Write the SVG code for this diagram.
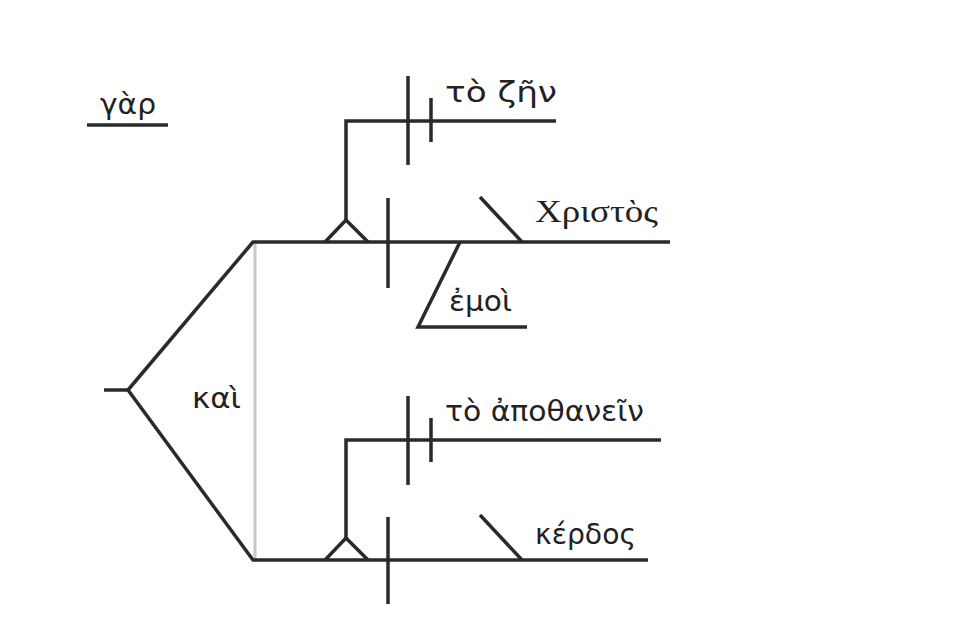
<svg xmlns="http://www.w3.org/2000/svg" width="960" height="640" viewBox="0 0 960 640">
<style>
.l{stroke:#2a2a2a;stroke-width:3.5;fill:none;stroke-linecap:butt}
.g{stroke:#c8c8c8;stroke-width:3;fill:none}
.t{font-family:"DejaVu Sans","Noto Sans",sans-serif;font-size:29px;fill:#222}
.s{font-family:"Liberation Serif","DejaVu Serif",serif;font-size:31px;fill:#222}
</style>
<rect width="960" height="640" fill="#fff"/>
<g id="connectors">
<line class="l" x1="87" y1="125" x2="168" y2="125"/>
<line class="l" x1="104" y1="390" x2="128" y2="390"/>
<line class="l" x1="128" y1="390" x2="253" y2="242"/>
<line class="l" x1="128" y1="390" x2="253" y2="560"/>
<line class="g" x1="255" y1="243" x2="255" y2="559"/>
</g>
<g id="gar"><text class="t" x="100" y="114" textLength="56" lengthAdjust="spacingAndGlyphs">γὰρ</text></g>
<g id="kai"><text class="t" x="192" y="408" textLength="49" lengthAdjust="spacingAndGlyphs">καὶ</text></g>
<g id="clause1">
<line class="l" x1="252" y1="242" x2="670" y2="242"/>
<polyline class="l" points="325,242 346,220 368,242"/>
<line class="l" x1="388" y1="198" x2="388" y2="288"/>
<line class="l" x1="480" y1="197" x2="522" y2="242"/>
<polyline class="l" points="460,242 418,327 527,327"/>
</g>
<g id="to-zen">
<polyline class="l" points="346,220 346,121 556,121"/>
<line class="l" x1="408" y1="76" x2="408" y2="165"/>
<line class="l" x1="431" y1="98" x2="431" y2="142"/>
<text class="t" x="445" y="102" textLength="112" lengthAdjust="spacingAndGlyphs">τὸ ζῆν</text>
</g>
<g id="christos"><text class="s" x="535" y="222" textLength="123" lengthAdjust="spacingAndGlyphs">Χριστὸς</text></g>
<g id="emoi"><text class="t" x="449" y="311" textLength="63" lengthAdjust="spacingAndGlyphs">ἐμοὶ</text></g>
<g id="clause2">
<line class="l" x1="252" y1="560" x2="648" y2="560"/>
<polyline class="l" points="325,560 346,538 368,560"/>
<line class="l" x1="388" y1="517" x2="388" y2="604"/>
<line class="l" x1="480" y1="515" x2="522" y2="560"/>
</g>
<g id="to-apothanein">
<polyline class="l" points="346,538 346,440 661,440"/>
<line class="l" x1="408" y1="396" x2="408" y2="485"/>
<line class="l" x1="431" y1="418" x2="431" y2="462"/>
<text class="t" x="445" y="421" textLength="199" lengthAdjust="spacingAndGlyphs">τὸ ἀποθανεῖν</text>
</g>
<g id="kerdos"><text class="t" x="535" y="544" textLength="101" lengthAdjust="spacingAndGlyphs">κέρδος</text></g>
</svg>
